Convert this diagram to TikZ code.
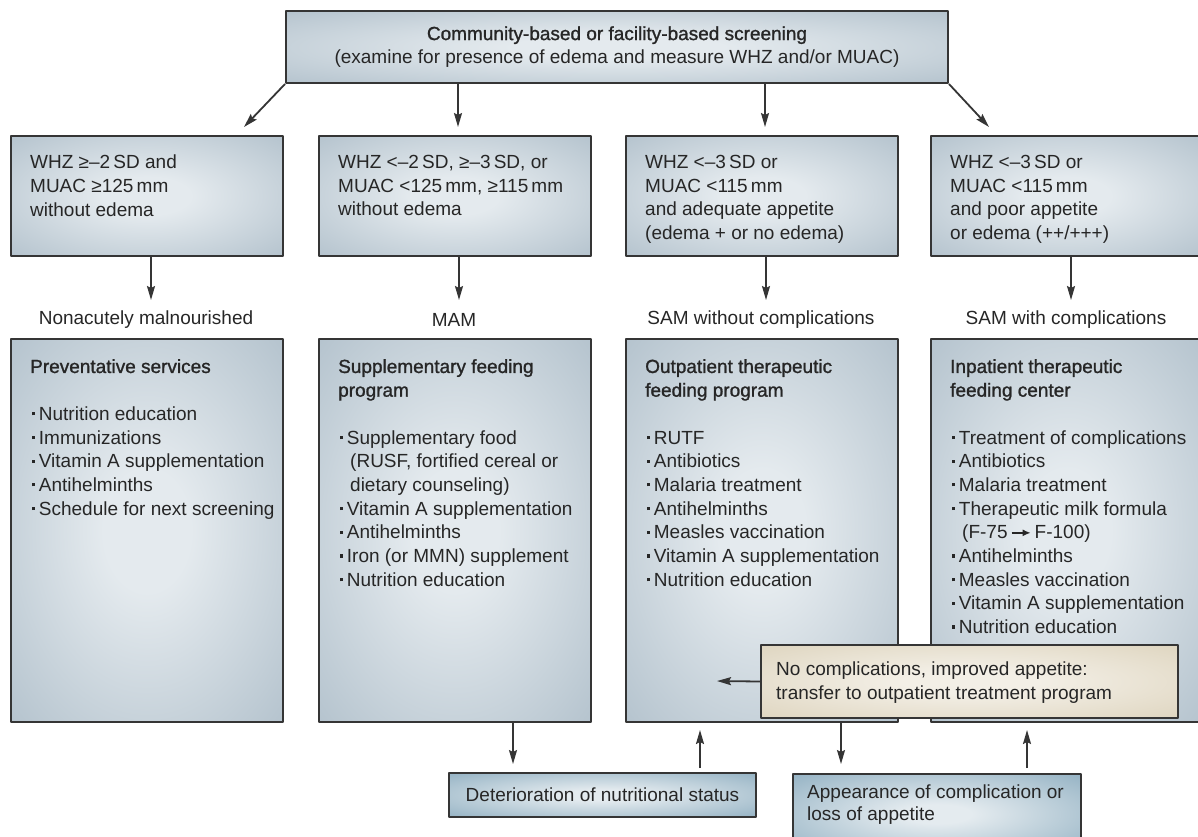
\documentclass[tikz,border=0pt]{standalone}
\usepackage{fontspec}
\setmainfont{Liberation Sans}
\newfontfamily\medfont[FakeBold=1.2]{Liberation Sans}
\usetikzlibrary{arrows.meta,positioning}

\definecolor{inkgray}{HTML}{262626}
\definecolor{framegray}{HTML}{353535}
\definecolor{steelout}{HTML}{9CAFBD}
\definecolor{steelin}{HTML}{E4EAEE}
\definecolor{blueout}{HTML}{6E97AF}
\definecolor{bluein}{HTML}{E4EBEF}
\definecolor{sandout}{HTML}{D4C8AC}
\definecolor{sandin}{HTML}{F3EFE6}

\pgfdeclareradialshading{steelglow}{\pgfpoint{0bp}{0bp}}{color(0bp)=(steelin); color(8bp)=(steelin); color(50bp)=(steelout); color(100bp)=(steelout)}
\pgfdeclareradialshading{blueglow}{\pgfpoint{0bp}{0bp}}{color(0bp)=(bluein); color(6bp)=(bluein); color(50bp)=(blueout); color(100bp)=(blueout)}
\pgfdeclareradialshading{sandglow}{\pgfpoint{0bp}{0bp}}{color(0bp)=(sandin); color(8bp)=(sandin); color(50bp)=(sandout); color(100bp)=(sandout)}

\newcommand\bul{\hspace*{2pt}\rule[5pt]{3.2pt}{3.2pt}\hspace{3.5pt}}
\newcommand\contd{\hspace*{12pt}}

\begin{document}
\begin{tikzpicture}[x=1pt, y=-1pt, line join=round,
		font=\fontsize{19}{23.7}\selectfont,
		box/.style={draw=framegray, line width=2pt, shade, shading=steelglow, anchor=north west, inner sep=0pt},
		boxtext/.style={anchor=north west, align=left, inner sep=0pt, text=inkgray},
		status/.style={inner sep=0pt, text=inkgray},
		arr/.style={draw=framegray, line width=1.8pt, -{Stealth[length=14pt,width=8pt,inset=2pt]}}]
	\useasboundingbox (0,0) rectangle (1198,836);
	
	\path
		(244,127) coordinate (T1)
		(989,127) coordinate (T4)
		(458,0) coordinate (P2)
		(765,0) coordinate (P3)
		(513,0) coordinate (X1)
		(700,0) coordinate (X2)
		(841,0) coordinate (X3)
		(1027,0) coordinate (X4)
		(717,681) coordinate (B)
	;
	
	% screening
	\node[box, minimum width=662pt, minimum height=72pt, align=center, text=inkgray] (screen) at (285,10)
		{{\medfont Community-based or facility-based screening}\\(examine for presence of edema and measure WHZ and/or MUAC)};
	
	\foreach \n/\x/\w/\lab in {1/10/272/Nonacutely malnourished, 2/318/272/MAM, 3/625/272/SAM without complications, 4/930/272/SAM with complications}{
		\node[box, minimum width=\w pt, minimum height=120pt] (crit\n) at (\x,135) {};
		\node[box, minimum width=\w pt, minimum height=383pt] (prog\n) at (\x,338) {};
		\node[status] (lab\n) at (\x+\w/2,320) {\lab};
		\draw[arr] ([xshift=4pt]crit\n.south) -- ([xshift=4pt, yshift=-43pt]crit\n.south);
	};
	
	\draw[arr] (screen.south west) -- (T1);
	\draw[arr, shorten >=8pt] (screen.south -| P2) -- (crit2.north -| P2);
	\draw[arr, shorten >=8pt] (screen.south -| P3) -- (crit3.north -| P3);
	\draw[arr] (screen.south east) -- (T4);
	
	% criteria
	\node[boxtext] (crit1txt) at ([shift={(20,20)}]crit1.north west) {WHZ ≥–2\,SD and\\MUAC ≥125\,mm\\without edema};
	\node[boxtext] (crit2txt) at ([shift={(20,20)}]crit2.north west) {WHZ <–2\,SD, ≥–3\,SD, or\\MUAC <125\,mm, ≥115\,mm\\without edema};
	\node[boxtext] (crit3txt) at ([shift={(20,20)}]crit3.north west) {WHZ <–3\,SD or\\MUAC <115\,mm\\and adequate appetite\\(edema + or no edema)};
	\node[boxtext] (crit4txt) at ([shift={(20,20)}]crit4.north west) {WHZ <–3\,SD or\\MUAC <115\,mm\\and poor appetite\\or edema (++/+++)};
	
	% programs
	\node[boxtext] (prog1txt) at ([shift={(20,21)}]prog1.north west) {{\medfont Preventative services}\\[23.7pt]
		\bul Nutrition education\\\bul Immunizations\\\bul Vitamin A supplementation\\\bul Antihelminths\\\bul Schedule for next screening};
	\node[boxtext] (prog2txt) at ([shift={(20,21)}]prog2.north west) {{\medfont Supplementary feeding}\\{\medfont program}\\[23.7pt]
		\bul Supplementary food\\\contd(RUSF, fortified cereal or\\\contd dietary counseling)\\\bul Vitamin A supplementation\\\bul Antihelminths\\\bul Iron (or MMN) supplement\\\bul Nutrition education};
	\node[boxtext] (prog3txt) at ([shift={(20,21)}]prog3.north west) {{\medfont Outpatient therapeutic}\\{\medfont feeding program}\\[23.7pt]
		\bul RUTF\\\bul Antibiotics\\\bul Malaria treatment\\\bul Antihelminths\\\bul Measles vaccination\\\bul Vitamin A supplementation\\\bul Nutrition education};
	\node[boxtext] (prog4txt) at ([shift={(20,21)}]prog4.north west) {{\medfont Inpatient therapeutic}\\{\medfont feeding center}\\[23.7pt]
		\bul Treatment of complications\\\bul Antibiotics\\\bul Malaria treatment\\\bul Therapeutic milk formula\\
		\contd(F-75\,\tikz[baseline=-0.6ex]\draw[-{Latex[length=8pt,width=7pt]}, line width=1.8pt, draw=inkgray] (0pt,0pt) -- (19pt,0pt);\,F-100)\\
		\bul Antihelminths\\\bul Measles vaccination\\\bul Vitamin A supplementation\\\bul Nutrition education};
	
	% transfer back
	\node[box, shading=sandglow, minimum width=417pt, minimum height=73pt] (transfer) at (760,644) {};
	\node[boxtext] (transfertxt) at ([shift={(16,18)}]transfer.north west) {No complications, improved appetite:\\transfer to outpatient treatment program};
	\draw[arr] (transfer.west) -- (B);
	
	% status changes
	\node[box, shading=blueglow, minimum width=307pt, minimum height=44pt, text=inkgray] (worse) at (448,772) {Deterioration of nutritional status};
	\node[box, shading=blueglow, minimum width=288pt, minimum height=80pt] (compl) at (792,773) {};
	\node[boxtext, font=\fontsize{19}{21.7}\selectfont] (compltxt) at ([shift={(15,12)}]compl.north west) {Appearance of complication or\\loss of appetite};
	
	\draw[arr, shorten >=8pt] (prog2.south -| X1) -- (worse.north -| X1);
	\draw[arr, shorten <=4pt, shorten >=7pt] (worse.north -| X2) -- (prog3.south -| X2);
	\draw[arr, shorten >=9pt] (prog3.south -| X3) -- (compl.north -| X3);
	\draw[arr, shorten <=5pt, shorten >=7pt] (compl.north -| X4) -- (prog4.south -| X4);
\end{tikzpicture}
\end{document}
